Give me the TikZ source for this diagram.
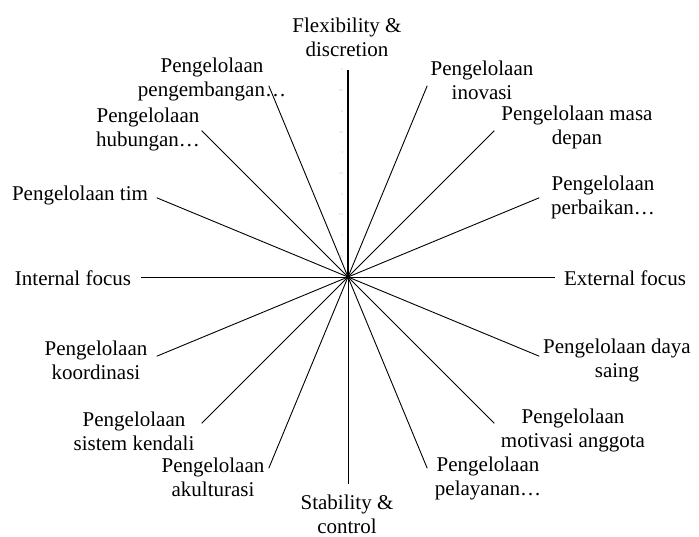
\documentclass[tikz,border=0pt]{standalone}
\usepackage{fontspec}
\setmainfont{Liberation Serif}
\begin{document}
\begin{tikzpicture}[x=1pt,y=1pt,
  spoke/.style={draw=black,line width=0.9pt},
  mainspoke/.style={draw=black,line width=1.3pt},
  axlabel/.style={inner sep=0pt,align=center,font=\fontsize{21}{24}\selectfont},
  ticklabel/.style={inner sep=0pt,anchor=east,text=black!35,font=\fontsize{3}{3}\selectfont}]
\useasboundingbox (-348,-260) rectangle (351,277);
\coordinate (c) at (0,0);
% end points of the sixteen spokes
\foreach \i in {0,...,15}{
  \coordinate (e\i) at ({90-22.5*\i}:207);
}
% spokes
\foreach \i in {1,...,15}{
  \draw[spoke] (c) -- (e\i);
}
\draw[mainspoke] (c) -- (e0);
\fill (c) circle (2.2pt);
% value scale along the vertical spoke
\foreach \v/\t in {1/0.5,2/1,3/1.5,4/2,5/2.5,6/3,7/3.5,8/4,9/4.5,10/5}{
  \node[ticklabel] (t\v) at (-5,{\v*20.7}) {\t};
}
% category labels
\node[axlabel] (l0)  at (-1,240)    {Flexibility \&\\discretion};
\node[axlabel] (l1)  at (134,197)   {Pengelolaan\\inovasi};
\node[axlabel] (l2)  at (229,150)   {Pengelolaan masa\\depan};
\node[axlabel] (l3)  at (255,80)    {Pengelolaan\\perbaikan…};
\node[axlabel] (l4)  at (277,-1)    {External focus};
\node[axlabel] (l5)  at (269,-83)   {Pengelolaan daya\\saing};
\node[axlabel] (l6)  at (225,-153)  {Pengelolaan\\motivasi anggota};
\node[axlabel] (l7)  at (140,-201)  {Pengelolaan\\pelayanan…};
\node[axlabel] (l8)  at (-1,-237)   {Stability \&\\control};
\node[axlabel] (l9)  at (-135,-200) {Pengelolaan\\akulturasi};
\node[axlabel] (l10) at (-214,-154) {Pengelolaan\\sistem kendali};
\node[axlabel] (l11) at (-252,-83)  {Pengelolaan\\koordinasi};
\node[axlabel] (l12) at (-275,-1)   {Internal focus};
\node[axlabel] (l13) at (-268,82)   {Pengelolaan tim};
\node[axlabel] (l14) at (-200,148)  {Pengelolaan\\hubungan…};
\node[axlabel] (l15) at (-136,198)  {Pengelolaan\\pengembangan…};
\end{tikzpicture}
\end{document}
